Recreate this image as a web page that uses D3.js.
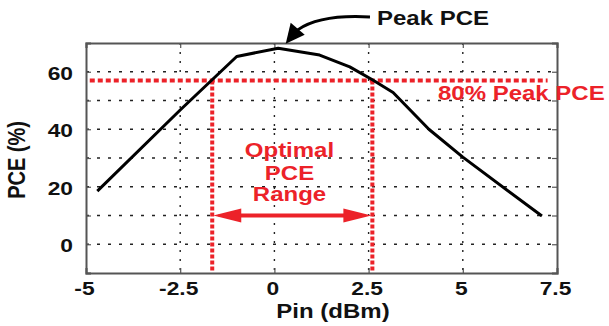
<!DOCTYPE html>
<html>
<head>
<meta charset="utf-8">
<title>PCE vs Pin</title>
<script src="https://d3js.org/d3.v7.min.js"></script>
<style>
  body { margin: 0; background: white; }
  text { font-family: "Liberation Sans", Arial, sans-serif; font-weight: bold; }
</style>
</head>
<body>
<div id="chart"></div>
<script>
// data
var pinDbm = [-4.7, -2.5, -1.0, 0.1, 1.2, 2.0, 2.6, 3.15, 4.1, 5.0, 7.1];
var pcePct = [18.5, 46.7, 65.3, 68.2, 65.8, 61.7, 57.2, 52.8, 40.0, 30.3, 9.8];

var xTicks = [-5, -2.5, 0, 2.5, 5, 7.5];
var xTickLabels = ["-5", "-2.5", "0", "2.5", "5", "7.5"];
var yGrid = [0, 10, 20, 30, 40, 50, 60];
var yTickLabels = [0, 20, 40, 60];

var peak80 = 57;            // "80% Peak PCE" level
var rangeLo = -1.65, rangeHi = 2.6;
var arrowLevel = 10;

var W = 609, H = 326;
var margin = {top: 43, right: 52, bottom: 53, left: 86};
var sx = 1.2;  // the figure's text is stretched horizontally
var red = "#ec2229";

var svg = d3.select("#chart").append("svg")
    .attr("width", W).attr("height", H);

var x = d3.scaleLinear().domain([-5, 7.5]).range([margin.left, W - margin.right]);
var y = d3.scaleLinear().domain([-10, 70]).range([H - margin.bottom, margin.top]);

function stretched(parent, px, py, str, anchor, size, color) {
    return parent.append("text")
        .attr("transform", "translate(" + px + "," + py + ") scale(" + sx + ",1)")
        .attr("text-anchor", anchor)
        .style("font-size", size + "px")
        .style("fill", color || "#111")
        .text(str);
}

// grid
svg.append("g").selectAll("line").data(yGrid).enter().append("line")
    .attr("x1", x(-5)).attr("x2", x(7.5))
    .attr("y1", function(d) { return y(d); }).attr("y2", function(d) { return y(d); })
    .attr("stroke", "#222").attr("stroke-width", 1.4)
    .attr("stroke-dasharray", "3,8");

svg.append("g").selectAll("line").data(xTicks.slice(1, -1)).enter().append("line")
    .attr("x1", function(d) { return x(d); }).attr("x2", function(d) { return x(d); })
    .attr("y1", y(70)).attr("y2", y(-10))
    .attr("stroke", "#222").attr("stroke-width", 1.4)
    .attr("stroke-dasharray", "2,7");

// axes (inward ticks, box)
var axL = d3.axisLeft(y).tickValues(yGrid.concat([-10])).tickSize(-5).tickFormat("");
var axR = d3.axisRight(y).tickValues(yGrid).tickSize(-5).tickFormat("");
var axB = d3.axisBottom(x).tickValues(xTicks).tickSize(-5).tickFormat("");
var axT = d3.axisTop(x).tickValues(xTicks).tickSize(-5).tickFormat("");
[[axL, "translate(" + x(-5) + ",0)"], [axR, "translate(" + x(7.5) + ",0)"],
 [axB, "translate(0," + y(-10) + ")"], [axT, "translate(0," + y(70) + ")"]].forEach(function(a) {
    var g = svg.append("g").attr("transform", a[1]).call(a[0]);
    g.select(".domain").attr("stroke", "#555").attr("stroke-width", 2);
    g.selectAll(".tick line").attr("stroke", "#555").attr("stroke-width", 1.2);
});

// tick labels
yTickLabels.forEach(function(v) {
    stretched(svg, x(-5) - 13, y(v) + 8, v, "end", 19);
});
xTicks.forEach(function(v, i) {
    stretched(svg, x(v) - 1.5, y(-10) + 22, xTickLabels[i], "middle", 19);
});

// axis titles
svg.append("text")
    .attr("transform", "translate(25," + (y(30) + 2) + ") scale(" + sx + ",1) rotate(-90)")
    .attr("text-anchor", "middle").style("font-size", "20px").style("fill", "#111")
    .text("PCE (%)");
stretched(svg, 333, 318, "Pin (dBm)", "middle", 20);

// red reference lines
svg.append("line")
    .attr("x1", x(-4.9)).attr("x2", x(7.25))
    .attr("y1", y(peak80)).attr("y2", y(peak80))
    .attr("stroke", red).attr("stroke-width", 4).attr("stroke-dasharray", "5,3");
svg.append("g").selectAll("line").data([rangeLo, rangeHi]).enter().append("line")
    .attr("x1", function(d) { return x(d); }).attr("x2", function(d) { return x(d); })
    .attr("y1", y(peak80)).attr("y2", y(-9.5))
    .attr("stroke", red).attr("stroke-width", 4).attr("stroke-dasharray", "4,2");

// PCE curve
var pts = pinDbm.map(function(d, i) { return [d, pcePct[i]]; });
svg.append("path").datum(pts)
    .attr("fill", "none").attr("stroke", "#000").attr("stroke-width", 3)
    .attr("stroke-linejoin", "round")
    .attr("d", d3.line().x(function(d) { return x(d[0]); }).y(function(d) { return y(d[1]); }));

// double arrow for optimal range
var ay = y(arrowLevel), ax0 = x(rangeLo) + 1, ax1 = x(rangeHi) - 1, hl = 28, hw = 7;
svg.append("line").attr("x1", ax0 + hl - 2).attr("x2", ax1 - hl + 2)
    .attr("y1", ay).attr("y2", ay).attr("stroke", red).attr("stroke-width", 4);
svg.append("path").attr("fill", red)
    .attr("d", "M" + ax0 + "," + ay + "L" + (ax0 + hl) + "," + (ay - hw) + "L" + (ax0 + hl) + "," + (ay + hw) + "Z");
svg.append("path").attr("fill", red)
    .attr("d", "M" + ax1 + "," + ay + "L" + (ax1 - hl) + "," + (ay - hw) + "L" + (ax1 - hl) + "," + (ay + hw) + "Z");

// annotations
stretched(svg, x(0.4), y(30.3), "Optimal", "middle", 20, red);
stretched(svg, x(0.4), y(22.3), "PCE", "middle", 20, red);
stretched(svg, x(0.4), y(15), "Range", "middle", 20, red);
stretched(svg, 438, y(50.2), "80% Peak PCE", "start", 20, red);
stretched(svg, 377, 25, "Peak PCE", "start", 20);

// curved arrow to the peak
var tip = [x(0.3), y(69.7)];
var p0 = [370, 17];
svg.append("path")
    .attr("fill", "none").attr("stroke", "#000").attr("stroke-width", 3)
    .attr("d", "M" + p0[0] + "," + p0[1] + " C" + 335 + "," + 15 + " " + 312 + "," + 20 + " " + (tip[0] + 12) + "," + (tip[1] - 14));
svg.append("path").attr("fill", "#000")
    .attr("d", "M" + tip[0] + "," + tip[1] + "L" + (tip[0] + 5) + "," + (tip[1] - 21) + "L" + (tip[0] + 19) + "," + (tip[1] - 9) + "Z");
</script>
</body>
</html>
